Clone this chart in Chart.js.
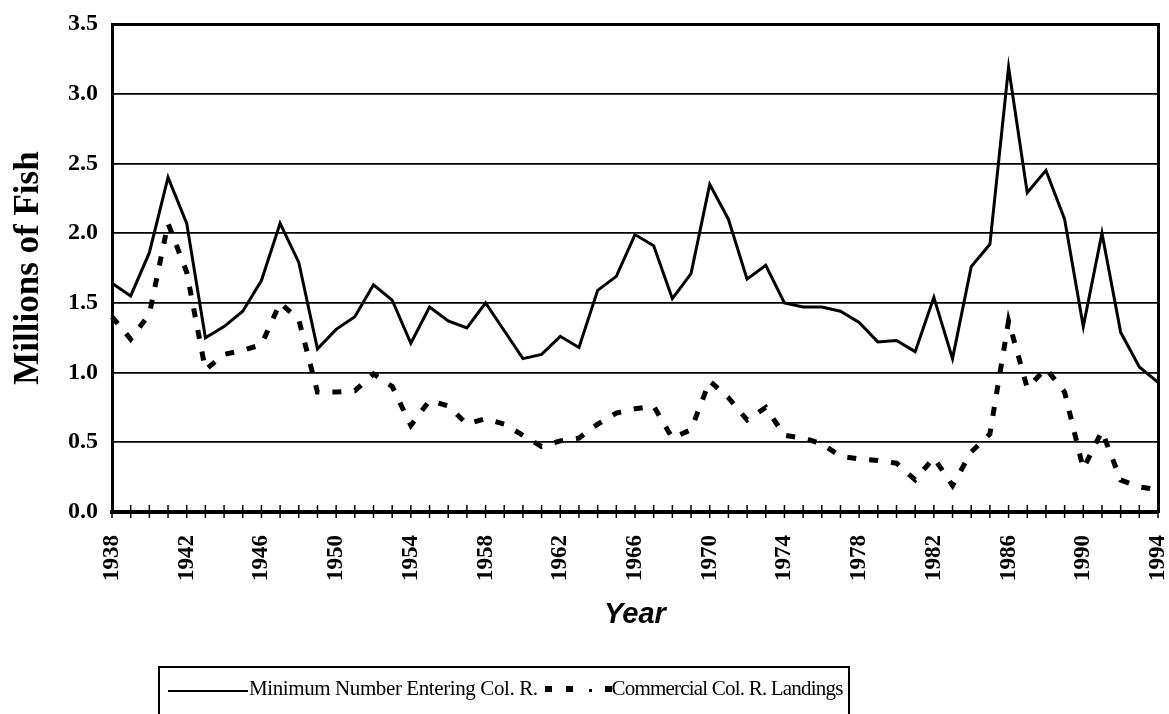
<!DOCTYPE html>
<html>
<head>
<meta charset="utf-8">
<script src="https://cdn.jsdelivr.net/npm/chart.js@4.4.1/dist/chart.umd.min.js"></script>
<style>
  body { margin: 0; background: #fff; }
  #wrap { position: relative; width: 1169px; height: 714px; overflow: hidden; }
  #legend {
    position: absolute; left: 158px; top: 666px; width: 692px; height: 70px;
    border: 2px solid #000; border-bottom: none; box-sizing: border-box;
    font-family: "Liberation Serif", serif; font-size: 21px; color: #000;
  }
  #legend .row { position: absolute; left: 8px; top: 8px; white-space: nowrap; letter-spacing: -0.4px; }
  #legend .tight { letter-spacing: -0.8px; }
  .solid { display: inline-block; width: 80px; border-bottom: 2px solid #000; vertical-align: 3px; margin-right: 1px; }
  .sq { display: inline-block; width: 7px; height: 6px; background: #000; vertical-align: 3px; }
  .dot { display: inline-block; width: 3px; height: 3px; background: #000; vertical-align: 3px; }
</style>
</head>
<body>
<div id="wrap">
  <canvas id="chart" width="1169" height="714"></canvas>
  <div id="legend">
    <div class="row"><span class="solid"></span>Minimum Number Entering Col. R.<span class="sq" style="margin-left:7px"></span><span class="sq" style="margin-left:14px"></span><span class="dot" style="margin-left:16px"></span><span class="sq" style="margin-left:13px"></span><span class="tight">Commercial Col. R. Landings</span></div>
  </div>
</div>
<script>
// Years on the x axis
const years = [];
for (let y = 1938; y <= 1994; y++) years.push(String(y));

// Minimum number entering the Columbia River (millions of fish)
const minEntering = [
    1.64, 1.55, 1.86, 2.40, 2.07, 1.25, 1.33, 1.44, 1.66, 2.07,
    1.79, 1.17, 1.31, 1.40, 1.63, 1.52, 1.21, 1.47, 1.37, 1.32,
    1.50, 1.30, 1.10, 1.13, 1.26, 1.18, 1.59, 1.69, 1.99, 1.91,
    1.53, 1.71, 2.35, 2.10, 1.67, 1.77, 1.50, 1.47, 1.47, 1.44,
    1.36, 1.22, 1.23, 1.15, 1.54, 1.10, 1.76, 1.92, 3.19, 2.29,
    2.45, 2.10, 1.33, 2.00, 1.29, 1.04, 0.93
];

// Commercial Columbia River landings (millions of fish)
const landings = [
    1.40, 1.24, 1.42, 2.07, 1.72, 1.02, 1.13, 1.16, 1.20, 1.50,
    1.38, 0.86, 0.86, 0.87, 0.99, 0.90, 0.62, 0.80, 0.76, 0.63,
    0.67, 0.63, 0.55, 0.47, 0.51, 0.53, 0.63, 0.71, 0.74, 0.76,
    0.53, 0.59, 0.94, 0.82, 0.66, 0.75, 0.55, 0.53, 0.49, 0.40,
    0.38, 0.37, 0.35, 0.23, 0.39, 0.19, 0.43, 0.56, 1.37, 0.89,
    1.03, 0.86, 0.31, 0.58, 0.23, 0.18, 0.16
];

const serif = '"Liberation Serif", "Times New Roman", serif';

// small year ticks crossing the x axis
const crossTicks = {
    id: 'crossTicks',
    afterDraw(chart) {
        const xs = chart.scales.x;
        const y = chart.chartArea.bottom;
        const ctx = chart.ctx;
        ctx.save();
        ctx.strokeStyle = '#000';
        ctx.lineWidth = 1.5;
        xs.ticks.forEach((t, i) => {
            const px = xs.getPixelForTick(i);
            ctx.beginPath();
            ctx.moveTo(px, y - 7);
            ctx.lineTo(px, y + 6);
            ctx.stroke();
        });
        ctx.restore();
    }
};

const config = {
    type: 'line',
    data: {
        labels: years,
        datasets: [{
            label: 'Minimum Number Entering Col. R.',
            data: minEntering,
            borderColor: '#000',
            borderWidth: 3,
            pointRadius: 0,
            tension: 0
        }, {
            label: 'Commercial Col. R. Landings',
            data: landings,
            borderColor: '#000',
            borderWidth: 5,
            borderDash: [9, 13],
            pointRadius: 0,
            tension: 0
        }]
    },
    options: {
        responsive: false,
        animation: false,
        devicePixelRatio: 1,
        layout: { padding: { left: 0, right: 11, top: 24, bottom: 80 } },
        plugins: { legend: { display: false }, tooltip: { enabled: false } },
        scales: {
            x: {
                type: 'category',
                offset: false,
                grid: { drawOnChartArea: false, drawTicks: false },
                border: { display: true, color: '#000', width: 4 },
                ticks: {
                    autoSkip: false,
                    maxRotation: 90,
                    minRotation: 90,
                    padding: 23,
                    color: '#000',
                    font: { family: serif, size: 23, weight: 'bold' },
                    callback: function (value, index) {
                        return index % 4 === 0 ? this.getLabelForValue(value) : '';
                    }
                },
                title: {
                    display: true,
                    text: 'Year',
                    color: '#000',
                    padding: { top: 0, bottom: 2 },
                    font: { family: '"Liberation Sans", Arial, sans-serif', size: 29, weight: 'bold', style: 'italic' }
                },
                afterFit: scale => {
                    scale.height = 122;
                    scale.paddingLeft = 0;
                    scale.paddingRight = 0;
                }
            },
            y: {
                min: 0,
                max: 3.5,
                ticks: {
                    stepSize: 0.5,
                    padding: 14,
                    color: '#000',
                    font: { family: serif, size: 24, weight: 'bold' },
                    callback: v => v.toFixed(1)
                },
                grid: {
                    color: '#000',
                    drawTicks: false,
                    lineWidth: ctx => (ctx.tick && ctx.tick.value === 3.5 ? 3 : 1.8)
                },
                border: { display: true, color: '#000', width: 3 },
                title: {
                    display: true,
                    text: 'Millions of Fish',
                    color: '#000',
                    padding: { top: 8, bottom: 0 },
                    font: { family: serif, size: 35, weight: 'bold' }
                },
                afterFit: scale => {
                    scale.width = 112;
                    scale.paddingTop = 0;
                    scale.paddingBottom = 0;
                }
            },
            y2: {
                position: 'right',
                min: 0,
                max: 3.5,
                ticks: { display: false },
                grid: { drawOnChartArea: false, drawTicks: false },
                border: { display: true, color: '#000', width: 3 },
                afterFit: scale => {
                    scale.width = 0;
                    scale.paddingTop = 0;
                    scale.paddingBottom = 0;
                }
            }
        }
    },
    plugins: [crossTicks]
};

const ctx = document.getElementById('chart').getContext('2d');
const myChart = new Chart(ctx, config);
</script>
</body>
</html>
